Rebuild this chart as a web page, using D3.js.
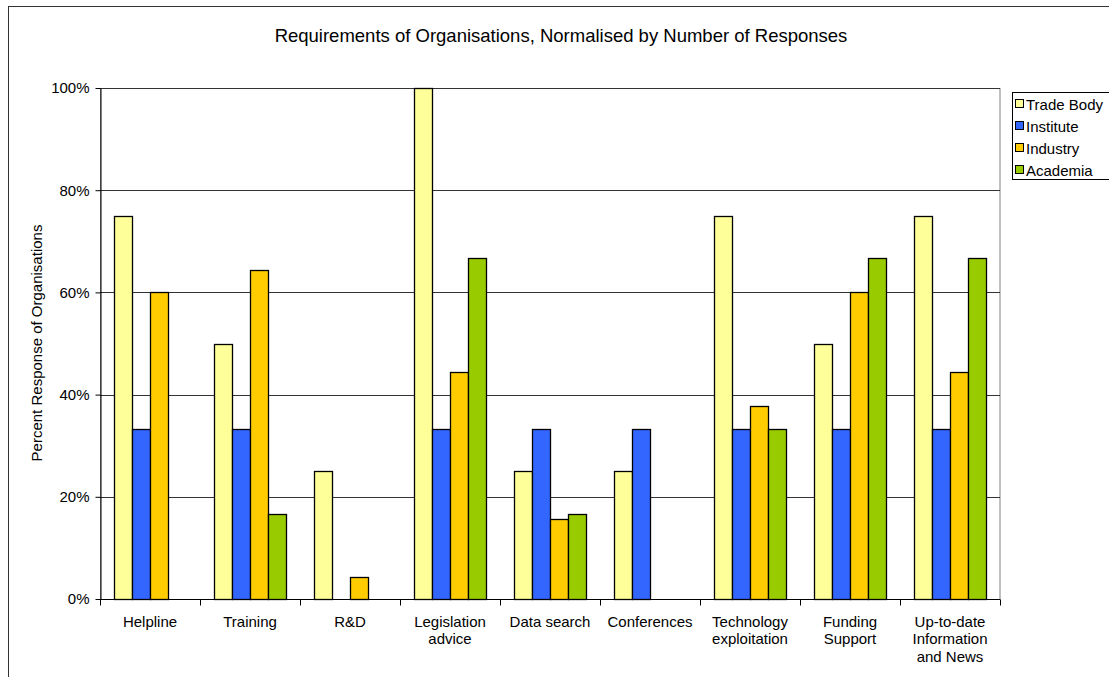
<!DOCTYPE html>
<html>
<head>
<meta charset="utf-8">
<script src="https://cdn.jsdelivr.net/npm/d3@7"></script>
<style>
  body { margin: 0; background: #fff; }
  svg { display: block; font-family: "Liberation Sans", Arial, sans-serif; }
</style>
</head>
<body>
<svg id="viz" width="1109" height="677"></svg>
<script>
// data
const categories = [
  ["Helpline"], ["Training"], ["R&D"], ["Legislation", "advice"], ["Data search"],
  ["Conferences"], ["Technology", "exploitation"], ["Funding", "Support"],
  ["Up-to-date", "Information", "and News"]
];
const seriesNames = ["Trade Body", "Institute", "Industry", "Academia"];
const tradeBody = [75, 50, 25, 100, 25, 25, 75, 50, 75];
const institute = [33.3, 33.3, 0, 33.3, 33.3, 33.3, 33.3, 33.3, 33.3];
const industry = [60, 64.4, 4.4, 44.4, 15.6, 0, 37.8, 60, 44.4];
const academia = [0, 16.7, 0, 66.7, 16.7, 0, 33.3, 66.7, 66.7];
const yTicks = [0, 20, 40, 60, 80, 100];

const seriesValues = [tradeBody, institute, industry, academia];
const colors = ["#FFFF99", "#3366FF", "#FFCC00", "#99CC00"];

var svg = d3.select("#viz");
var width = +svg.attr("width");
var height = +svg.attr("height");

// outer chart border
svg.append("rect")
    .attr("x", 8.5).attr("y", 6.5)
    .attr("width", 1200).attr("height", 700)
    .attr("fill", "#fff")
    .attr("stroke", "#333").attr("stroke-width", 1);

const plot = { left: 100, right: 1000, top: 88, bottom: 599 };

const x = d3.scaleBand()
    .domain(d3.range(categories.length))
    .range([plot.left, plot.right]);
const xInner = d3.scaleBand()
    .domain(d3.range(seriesNames.length))
    .range([0, x.bandwidth()])
    .paddingOuter(0.78);
const y = d3.scaleLinear().domain([0, 100]).range([plot.bottom, plot.top]);

// title
svg.append("text")
    .attr("x", 561).attr("y", 42)
    .attr("text-anchor", "middle")
    .attr("font-size", 18.5)
    .text("Requirements of Organisations, Normalised by Number of Responses");

// plot area border (gray)
svg.append("rect")
    .attr("x", plot.left + 0.5).attr("y", plot.top + 0.5)
    .attr("width", plot.right - plot.left - 0.5)
    .attr("height", plot.bottom - plot.top)
    .attr("fill", "none")
    .attr("stroke", "#808080");

// gridlines
svg.append("g")
    .selectAll("line")
    .data(yTicks.filter(d => d > 0))
    .join("line")
    .attr("x1", plot.left).attr("x2", plot.right)
    .attr("y1", d => Math.round(y(d)) + 0.5)
    .attr("y2", d => Math.round(y(d)) + 0.5)
    .attr("stroke", "#333");

// bars
const groups = svg.append("g")
    .selectAll("g")
    .data(seriesValues)
    .join("g")
    .attr("fill", (d, i) => colors[i]);

groups.each(function (vals, si) {
    d3.select(this).selectAll("rect")
        .data(vals.map((v, ci) => ({ v, ci })).filter(d => d.v > 0))
        .join("rect")
        .attr("x", d => Math.round(x(d.ci) + xInner(si)) + 0.5)
        .attr("width", Math.round(xInner.bandwidth()))
        .attr("y", d => Math.round(y(d.v)) + 0.5)
        .attr("height", d => Math.round(y(0)) - Math.round(y(d.v)))
        .attr("stroke", "#000")
        .attr("stroke-width", 1.3);
});

// y axis
const yAxis = svg.append("g")
    .attr("transform", `translate(${plot.left + 0.5},0)`)
    .call(d3.axisLeft(y).tickValues(yTicks).tickFormat(d => d + "%").tickSize(5).tickSizeOuter(0));
yAxis.select(".domain").attr("stroke", "#000");
yAxis.selectAll(".tick line").attr("stroke", "#000");
yAxis.selectAll(".tick text")
    .attr("font-family", "Liberation Sans, Arial, sans-serif")
    .attr("font-size", 15)
    .attr("fill", "#000")
    .attr("x", -11);

// x axis
const xAxis = svg.append("g")
    .attr("transform", `translate(0,${plot.bottom + 0.5})`);
xAxis.append("line")
    .attr("x1", plot.left).attr("x2", plot.right)
    .attr("stroke", "#000");
xAxis.selectAll("line.tick")
    .data(d3.range(categories.length + 1))
    .join("line")
    .attr("class", "tick")
    .attr("x1", d => Math.round(plot.left + d * x.step()) + 0.5)
    .attr("x2", d => Math.round(plot.left + d * x.step()) + 0.5)
    .attr("y1", 0).attr("y2", 6)
    .attr("stroke", "#000");
xAxis.selectAll("text")
    .data(categories)
    .join("text")
    .attr("text-anchor", "middle")
    .attr("font-size", 15)
    .attr("transform", (d, i) => `translate(${x(i) + x.bandwidth() / 2},27)`)
    .each(function (lines) {
        d3.select(this).selectAll("tspan")
            .data(lines)
            .join("tspan")
            .attr("x", 0)
            .attr("y", (d, i) => i * 17.5)
            .text(d => d);
    });

// y axis title
svg.append("text")
    .attr("transform", "translate(42,343) rotate(-90)")
    .attr("text-anchor", "middle")
    .attr("font-size", 15)
    .text("Percent Response of Organisations");

// legend
const legend = svg.append("g").attr("transform", "translate(1012,92)");
legend.append("rect")
    .attr("x", 0.5).attr("y", 0.5)
    .attr("width", 120).attr("height", 87)
    .attr("fill", "#fff")
    .attr("stroke", "#000");
const items = legend.selectAll("g.item")
    .data(seriesNames)
    .join("g")
    .attr("class", "item")
    .attr("transform", (d, i) => `translate(3,${12 + i * 22})`);
items.append("rect")
    .attr("x", 0.5).attr("y", -4.5)
    .attr("width", 8).attr("height", 8)
    .attr("fill", (d, i) => colors[i])
    .attr("stroke", "#000");
items.append("text")
    .attr("x", 11).attr("y", 5.5)
    .attr("font-size", 15)
    .text(d => d);
</script>
</body>
</html>
